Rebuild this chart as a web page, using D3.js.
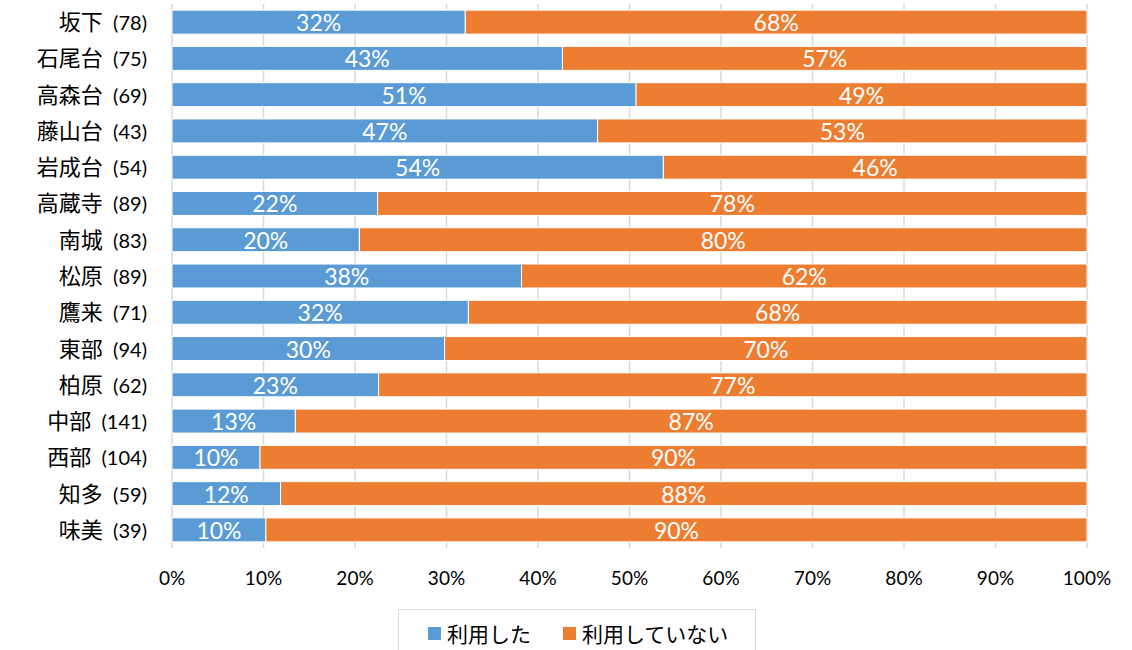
<!DOCTYPE html>
<html>
<head>
<meta charset="utf-8">
<script src="https://cdn.jsdelivr.net/npm/d3@7"></script>
<style>
  body { margin: 0; background: #fff; }
  svg { display: block; }
</style>
</head>
<body>
<svg id="chart" width="1132" height="650"></svg>
<script>
/*
  100% stacked bar chart: 利用した / 利用していない by area.
*/

// Area names and sample sizes, top to bottom.
let areaNames = ['坂下', '石尾台', '高森台', '藤山台', '岩成台', '高蔵寺', '南城', '松原',
    '鷹来', '東部', '柏原', '中部', '西部', '知多', '味美'];
let areaCounts = [78, 75, 69, 43, 54, 89, 83, 89, 71, 94, 62, 141, 104, 59, 39];

// Share of each answer (%).
let usedValues = [32.05, 42.67, 50.72, 46.51, 53.70, 22.47, 20.48, 38.20, 32.39, 29.79, 22.58, 13.48, 9.62, 11.86, 10.26];
let notUsedValues = [67.95, 57.33, 49.28, 53.49, 46.30, 77.53, 79.52, 61.80, 67.61, 70.21, 77.42, 86.52, 90.38, 88.14, 89.74];

let seriesNames = ['利用した', '利用していない'];
let tickValues = [0, 10, 20, 30, 40, 50, 60, 70, 80, 90, 100];

let colors = ['#5B9BD5', '#ED7D31'];
let latinFont = "Lato, 'Open Sans', sans-serif";
let cjkFont = "'Noto Sans CJK JP', sans-serif";

let margin = {top: 4, left: 172};
let plotWidth = 915;
let plotHeight = 544;

let svg = d3.select('#chart');
let g = svg.append('g')
    .attr('transform', 'translate(' + margin.left + ',' + margin.top + ')');

// Build rows for the stack.
let rows = areaNames.map((name, i) => ({
    name: name,
    count: areaCounts[i],
    used: usedValues[i],
    notUsed: notUsedValues[i]
}));

let x = d3.scaleLinear().domain([0, 100]).range([0, plotWidth]);
let y = d3.scaleBand()
    .domain(areaNames)
    .range([0, plotHeight])
    .paddingInner(0.34)
    .paddingOuter(0.17);

// gridlines
g.append('g')
    .selectAll('line')
    .data(tickValues)
    .enter().append('line')
    .attr('x1', d => x(d))
    .attr('x2', d => x(d))
    .attr('y1', 0)
    .attr('y2', plotHeight)
    .attr('stroke', '#d9d9d9')
    .attr('stroke-width', 1.5);

let stack = d3.stack().keys(['used', 'notUsed']);
let layers = stack(rows);

let layer = g.selectAll('.layer')
    .data(layers)
    .enter().append('g')
    .attr('class', 'layer')
    .attr('fill', (d, i) => colors[i]);

layer.selectAll('rect')
    .data(d => d)
    .enter().append('rect')
    .attr('x', d => x(d[0]))
    .attr('y', d => y(d.data.name))
    .attr('width', d => x(d[1]) - x(d[0]))
    .attr('height', y.bandwidth())
    .attr('stroke', '#fff')
    .attr('stroke-width', 1);

// value labels in the segments
layer.selectAll('text')
    .data(d => d)
    .enter().append('text')
    .attr('x', d => (x(d[0]) + x(d[1])) / 2)
    .attr('y', d => y(d.data.name) + y.bandwidth() / 2 + 9)
    .attr('text-anchor', 'middle')
    .attr('fill', '#fff')
    .style('font-family', latinFont)
    .style('font-size', '23px')
    .text(d => Math.round(d[1] - d[0]) + '%');

// x axis labels
g.append('g')
    .selectAll('text')
    .data(tickValues)
    .enter().append('text')
    .attr('x', d => x(d))
    .attr('y', 581)
    .attr('text-anchor', 'middle')
    .attr('fill', '#000')
    .style('font-family', latinFont)
    .style('font-size', '19px')
    .text(d => d + '%');

// category labels
let catLabel = svg.append('g')
    .selectAll('text')
    .data(rows)
    .enter().append('text')
    .attr('x', 147)
    .attr('y', d => margin.top + y(d.name) + y.bandwidth() / 2 + 8)
    .attr('text-anchor', 'end')
    .attr('fill', '#000')
    .attr('xml:space', 'preserve');

catLabel.append('tspan')
    .style('font-family', cjkFont)
    .style('font-size', '22px')
    .text(d => d.name);

catLabel.append('tspan')
    .style('font-family', latinFont)
    .style('font-size', '20px')
    .text(d => '  (' + d.count + ')');

// legend
let legend = svg.append('g');
legend.append('rect')
    .attr('x', 398.5)
    .attr('y', 609.5)
    .attr('width', 357)
    .attr('height', 60)
    .attr('fill', '#fff')
    .attr('stroke', '#d9d9d9');

let legendX = [428, 563];
let legendItem = legend.selectAll('.item')
    .data(seriesNames)
    .enter().append('g')
    .attr('class', 'item')
    .attr('transform', (d, i) => 'translate(' + legendX[i] + ',627)');

legendItem.append('rect')
    .attr('width', 13)
    .attr('height', 13)
    .attr('fill', (d, i) => colors[i]);

legendItem.append('text')
    .attr('x', 19)
    .attr('y', 15)
    .attr('fill', '#000')
    .style('font-family', cjkFont)
    .style('font-size', '21px')
    .text(d => d);
</script>
</body>
</html>
